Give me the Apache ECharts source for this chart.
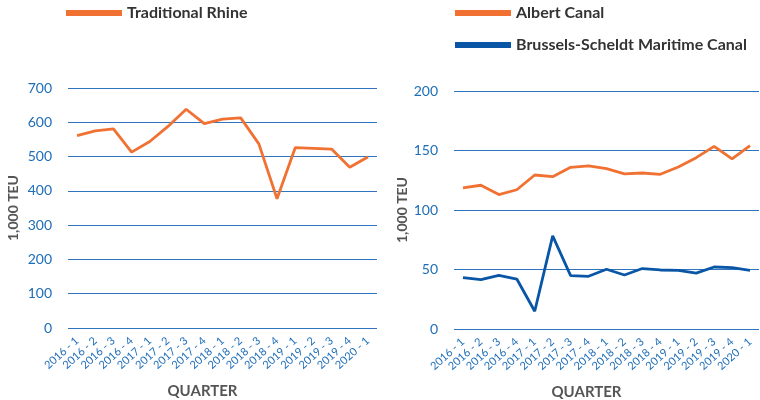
<!DOCTYPE html>
<html>
<head>
<meta charset="utf-8">
<script src="https://cdn.jsdelivr.net/npm/echarts@6/dist/echarts.min.js"></script>
<style>
  html, body { margin: 0; padding: 0; background: #fff; }
  #chart { width: 760px; height: 400px; }
</style>
</head>
<body>
<div id="chart"></div>
<script>
// quarters shared by both panels
var quarters = ['2016 - 1','2016 - 2','2016 - 3','2016 - 4','2017 - 1','2017 - 2','2017 - 3','2017 - 4',
  '2018 - 1','2018 - 2','2018 - 3','2018 - 4','2019 - 1','2019 - 2','2019 - 3','2019 - 4','2020 - 1'];

// 1,000 TEU
var rhine = [561, 575, 581, 513, 544, 588, 638, 596, 609, 613, 537, 377, 526, 524, 522, 469, 499];
var albert = [118.5, 120.8, 113, 117, 129.4, 128, 135.9, 137, 134.8, 130.3, 131.1, 130, 136.1, 144, 153.5, 142.9, 154.1];
var brussels = [43.2, 41.5, 45.1, 42, 14.9, 78.2, 44.9, 44.3, 50.2, 45.4, 50.8, 49.6, 49.3, 47, 52.1, 51.6, 49.3];

var orange = '#F07132';
var darkBlue = '#0A56A6';
var labelBlue = '#1E6DB8';
var gridBlue = '#2F74BD';
var grey = '#555555';
var font = 'Lato';

function xAxis(idx) {
  return {
    type: 'category', gridIndex: idx, data: quarters, boundaryGap: true,
    axisLine: { show: false }, axisTick: { show: false },
    axisLabel: { rotate: 42, fontSize: 11, color: labelBlue, fontFamily: font, margin: 11, interval: 0 },
    name: 'QUARTER', nameLocation: 'middle', nameGap: 56,
    nameTextStyle: { fontFamily: font, fontWeight: 'bold', fontSize: 15, color: grey, padding: [0, 40, 0, 0] }
  };
}
function yAxis(idx, max, step, gap) {
  return {
    type: 'value', gridIndex: idx, min: 0, max: max, interval: step,
    axisLine: { show: false }, axisTick: { show: false },
    axisLabel: { fontSize: 14, color: labelBlue, fontFamily: font, margin: 16 },
    splitLine: { lineStyle: { color: gridBlue, width: 1 } },
    name: '1,000 TEU', nameLocation: 'middle', nameGap: gap,
    nameTextStyle: { fontFamily: font, fontWeight: 'bold', fontSize: 14, color: grey }
  };
}

var chart = echarts.init(document.getElementById('chart'));
chart.setOption({
  animation: false,
  grid: [
    { left: 68, right: 383, top: 88, bottom: 72, outerBoundsMode: 'none' },
    { left: 454, right: 1, top: 91, bottom: 71, outerBoundsMode: 'none' }
  ],
  legend: [
    { data: ['Traditional Rhine'], left: 61, top: 0, icon: 'rect', itemWidth: 56, itemHeight: 6, itemGap: 10,
      textStyle: { fontFamily: font, fontWeight: 'bold', fontSize: 16, color: '#333' } },
    { data: ['Albert Canal', 'Brussels-Scheldt Maritime Canal'], orient: 'vertical', left: 450, top: 0,
      icon: 'rect', itemWidth: 56, itemHeight: 6, itemGap: 16,
      textStyle: { fontFamily: font, fontWeight: 'bold', fontSize: 16, color: '#333' } }
  ],
  xAxis: [xAxis(0), xAxis(1)],
  yAxis: [yAxis(0, 700, 100, 48), yAxis(1, 200, 50, 42)],
  series: [
    { name: 'Traditional Rhine', type: 'line', xAxisIndex: 0, yAxisIndex: 0, data: rhine,
      symbol: 'none', color: orange, lineStyle: { width: 2.8, color: orange } },
    { name: 'Albert Canal', type: 'line', xAxisIndex: 1, yAxisIndex: 1, data: albert,
      symbol: 'none', color: orange, lineStyle: { width: 2.8, color: orange } },
    { name: 'Brussels-Scheldt Maritime Canal', type: 'line', xAxisIndex: 1, yAxisIndex: 1, data: brussels,
      symbol: 'none', color: darkBlue, lineStyle: { width: 2.8, color: darkBlue } }
  ]
});
</script>
</body>
</html>
